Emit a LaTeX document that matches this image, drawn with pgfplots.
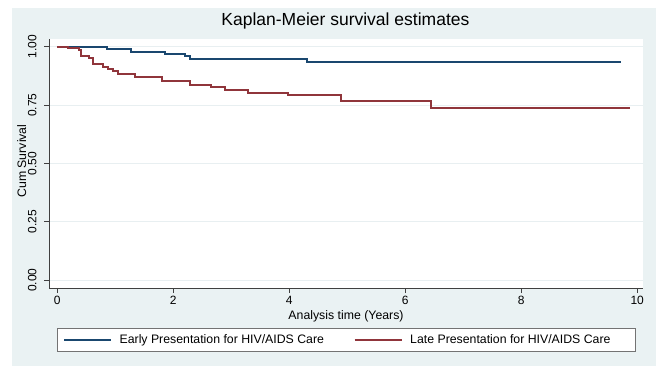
\documentclass[border=0pt]{standalone}
\usepackage{fontspec}
\setmainfont{Liberation Sans}
\usepackage{pgfplots}
\pgfplotsset{compat=1.18}

\definecolor{stnavy}{RGB}{26,71,111}
\definecolor{stmaroon}{RGB}{144,53,59}
\definecolor{stbg}{RGB}{234,242,243}
\definecolor{stgrid}{RGB}{232,239,241}
\definecolor{staxis}{RGB}{64,64,64}

\begin{document}
\begin{tikzpicture}
  % page and graph region
  \fill[white] (0pt,0pt) rectangle (669pt,376pt);
  \fill[stbg] (12pt,10pt) rectangle (656pt,368pt);
  \begin{axis}[
    at={(49pt,88pt)}, anchor=south west,
    scale only axis, width=594pt, height=249pt,
    xmin=-0.14, xmax=10.1, ymin=-0.034, ymax=1.033,
    axis x line*=bottom, axis y line*=left,
    axis line style={draw=staxis, line width=0.8pt},
    axis background/.style={fill=white},
    tick align=outside, major tick length=5pt,
    tick style={draw=staxis, line width=0.8pt},
    xtick={0,2,4,6,8,10},
    ytick={0,0.25,0.5,0.75,1},
    yticklabels={0.00,0.25,0.50,0.75,1.00},
    /pgf/number format/assume math mode=true,
    ymajorgrids, grid style={draw=stgrid, line width=0.8pt},
    ticklabel style={font=\fontsize{12}{14}\selectfont},
    yticklabel style={rotate=90, anchor=south, yshift=4pt},
    xlabel={Analysis time (Years)},
    ylabel={Cum Survival},
    label style={font=\fontsize{12.3}{14}\selectfont},
    xlabel style={at={(axis description cs:0.5,-0.1124)}, anchor=center},
    ylabel style={at={(axis description cs:-0.046,0.51)}, anchor=center},
    title={Kaplan-Meier survival estimates},
    title style={at={(axis description cs:0.499,1.048)}, anchor=center,
                 font=\fontsize{17.5}{20}\selectfont},
    legend columns=2,
    legend style={at={(axis description cs:0.5008,-0.2088)}, anchor=center,
                  draw=black!55, fill=white, line width=0.6pt,
                  font=\fontsize{12.3}{14}\selectfont,
                  inner xsep=6pt, inner ysep=4pt,
                  /tikz/every odd column/.append style={column sep=6pt},
                  /tikz/every even column/.append style={column sep=28pt}},
    legend cell align=left,
    legend image code/.code={\draw[#1, line width=1.2pt] (0pt,0pt) -- (47pt,0pt);},
  ]
    % early presentation group
    \addplot[const plot, stnavy, line width=2pt] coordinates {
      (0,1) (0.86,0.991) (1.27,0.979) (1.86,0.970) (2.20,0.959)
      (2.29,0.949) (4.31,0.934) (9.72,0.934)
    };
    \addlegendentry{Early Presentation for HIV/AIDS Care}
    % late presentation group
    \addplot[const plot, stmaroon, line width=2pt] coordinates {
      (0,1) (0.19,0.994) (0.38,0.984) (0.42,0.962) (0.55,0.952)
      (0.62,0.927) (0.79,0.914) (0.88,0.905) (0.97,0.895) (1.05,0.884)
      (1.34,0.869) (1.80,0.852) (2.29,0.838) (2.66,0.826) (2.89,0.815)
      (3.29,0.802) (3.98,0.791) (4.89,0.766) (6.44,0.738) (9.87,0.738)
    };
    \addlegendentry{Late Presentation for HIV/AIDS Care\hspace*{17pt}}
  \end{axis}
\end{tikzpicture}
\end{document}
